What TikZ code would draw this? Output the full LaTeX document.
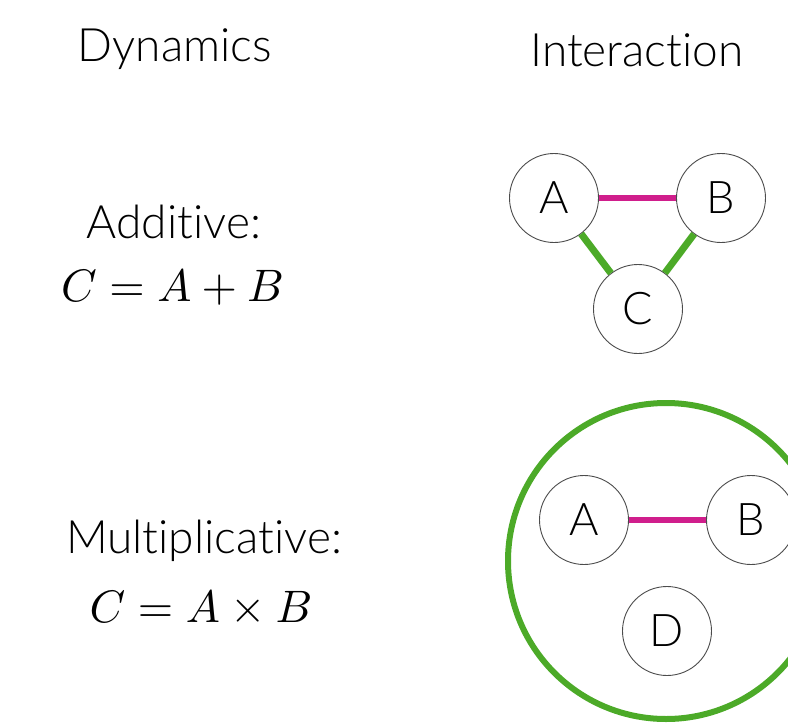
\documentclass[tikz,border=0pt]{standalone}
\usepackage{fontspec}
\setmainfont{Lato Light}[Ligatures=NoCommon]
\definecolor{mag}{RGB}{208,30,140}
\definecolor{grn}{RGB}{76,170,40}
\begin{document}
\begin{tikzpicture}[x=1pt,y=-1pt,
  lbl/.style={font=\fontsize{46}{54}\selectfont, inner sep=0pt, anchor=base},
  mth/.style={font=\fontsize{10}{12}\selectfont, scale=4.55, inner sep=0pt, anchor=base},
  ball/.style={circle, draw=black!70, line width=0.9pt, minimum size=89pt, inner sep=0pt, fill=white, font=\fontsize{45}{50}\selectfont},
  pink/.style={draw=mag, line width=6pt},
  grnline/.style={draw=grn, line width=7pt}]
\useasboundingbox (0,0) rectangle (788,723);
\node[lbl] (dyn) at (175,61) {Dynamics};
\node[lbl] (int) at (637,66) {Interaction};
\node[lbl] (add) at (174,238) {Additive:};
\node[mth] (addeq) at (172.5,301) {$C=A+B$};
\node[lbl] (mul) at (204,553) {Multiplicative:};
\node[mth] (muleq) at (201,622) {$C=A\times B$};
% additive
\node[ball] (a1) at (554,198) {A};
\node[ball] (b1) at (721,198) {B};
\node[ball] (c1) at (638,309) {C};
\draw[pink] (a1) -- (b1);
\draw[grnline] (a1) -- (c1);
\draw[grnline] (b1) -- (c1);
% multiplicative
\node[circle, draw=grn, line width=6pt, minimum size=316pt, inner sep=0pt] (env) at (666,561) {};
\node[ball] (a2) at (584,520) {A};
\node[ball] (b2) at (751,520) {B};
\node[ball] (d2) at (667,631) {D};
\draw[pink] (a2) -- (b2);
\end{tikzpicture}
\end{document}
